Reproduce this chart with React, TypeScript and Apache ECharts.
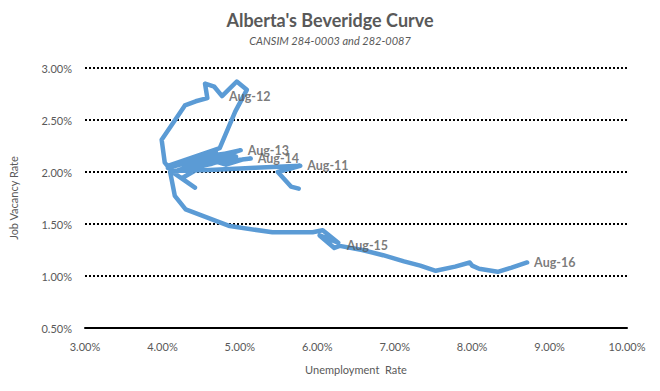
import React, { useEffect, useRef } from "react";
import * as echarts from "echarts";

const months = [
  "May-11", "Jun-11", "Jul-11", "Aug-11", "Sep-11", "Oct-11", "Nov-11", "Dec-11",
  "Jan-12", "Feb-12", "Mar-12", "Apr-12", "May-12", "Jun-12", "Jul-12", "Aug-12",
  "Sep-12", "Oct-12", "Nov-12", "Dec-12", "Jan-13", "Feb-13", "Mar-13", "Apr-13",
  "May-13", "Jun-13", "Jul-13", "Aug-13", "Sep-13", "Oct-13", "Nov-13", "Dec-13",
  "Jan-14", "Feb-14", "Mar-14", "Apr-14", "May-14", "Jun-14", "Jul-14", "Aug-14",
  "Sep-14", "Oct-14", "Nov-14", "Dec-14", "Jan-15", "Feb-15", "Mar-15", "Apr-15",
  "May-15", "Jun-15", "Jul-15", "Aug-15", "Sep-15", "Oct-15", "Nov-15", "Dec-15",
  "Jan-16", "Feb-16", "Mar-16", "Apr-16", "May-16", "Jun-16", "Jul-16", "Aug-16",
];

const unemploymentRate = [
  5.76, 5.66, 5.49, 5.78, 5.2, 4.61, 4.12, 4.03,
  3.99, 4.1, 4.29, 4.43, 4.58, 4.55, 4.67, 4.77,
  4.96, 5.09, 4.94, 4.74, 4.07, 4.42, 4.69, 4.15,
  4.42, 4.25, 4.69, 5.01, 4.59, 4.07, 4.54, 4.85,
  4.49, 4.18, 4.64, 4.95, 4.61, 4.82, 5.03, 5.14,
  4.68, 4.1, 4.16, 4.3, 4.87, 5.42, 5.94, 6.07,
  6.27, 6.03, 6.22, 6.29, 6.58, 6.85, 7.12, 7.33,
  7.53, 7.78, 7.97, 8.0, 8.09, 8.33, 8.51, 8.71,
];

const jobVacancyRate = [
  1.84, 1.86, 2.0, 2.06, 2.04, 2.02, 2.01, 2.09,
  2.31, 2.43, 2.64, 2.68, 2.71, 2.85, 2.82, 2.73,
  2.87, 2.79, 2.58, 2.23, 2.06, 2.13, 2.19, 1.99,
  1.85, 1.94, 2.13, 2.21, 2.14, 2.04, 2.15, 2.18,
  2.09, 2.01, 2.08, 2.15, 2.12, 2.07, 2.12, 2.13,
  2.09, 2.0, 1.77, 1.64, 1.48, 1.42, 1.42, 1.44,
  1.32, 1.39, 1.27, 1.29, 1.25, 1.2, 1.14, 1.1,
  1.05, 1.09, 1.13, 1.1, 1.07, 1.04, 1.08, 1.13,
];

const labelledMonths = ["Aug-11", "Aug-12", "Aug-13", "Aug-14", "Aug-15", "Aug-16"];

const xTicks = { min: 3, max: 10, interval: 1 };
const yTicks = { min: 0.5, max: 3, interval: 0.5 };

const textGray = "#595959";
const font = "Lato, 'Open Sans', sans-serif";

export default function App() {
  const ref = useRef<HTMLDivElement>(null);

  useEffect(() => {
    document.body.style.margin = "0";
    if (!ref.current) return;
    const chart = echarts.init(ref.current, undefined, { renderer: "svg" });
    const lineData = unemploymentRate.map((u, i) => [u, jobVacancyRate[i]]);
    const labelData = labelledMonths.map((m) => {
      const i = months.indexOf(m);
      return { value: [unemploymentRate[i], jobVacancyRate[i]], name: m };
    });

    chart.setOption({
      animation: false,
      backgroundColor: "#ffffff",
      title: {
        text: "Alberta's Beveridge Curve",
        subtext: "CANSIM 284-0003 and 282-0087",
        left: "center",
        top: 6,
        itemGap: 6,
        textStyle: { color: textGray, fontSize: 18, fontWeight: "bold", fontFamily: font },
        subtextStyle: { color: textGray, fontSize: 11, fontStyle: "italic", fontFamily: font },
      },
      grid: { left: 85, right: 33, top: 68, bottom: 63 },
      xAxis: {
        type: "value",
        min: xTicks.min,
        max: xTicks.max,
        interval: xTicks.interval,
        name: "Unemployment  Rate",
        nameLocation: "middle",
        nameGap: 36,
        nameTextStyle: { color: textGray, fontSize: 11, fontFamily: font },
        axisLine: { show: true, onZero: false, lineStyle: { color: "#000", width: 2 } },
        axisTick: { show: false },
        splitLine: { show: false },
        axisLabel: {
          color: textGray,
          fontSize: 11,
          fontFamily: font,
          margin: 13,
          formatter: (v: number) => v.toFixed(2) + "%",
        },
      },
      yAxis: {
        type: "value",
        min: yTicks.min,
        max: yTicks.max,
        interval: yTicks.interval,
        name: "Job Vacancy Rate",
        nameLocation: "middle",
        nameGap: 66,
        nameTextStyle: { color: textGray, fontSize: 11, fontFamily: font },
        axisLine: { show: false },
        axisTick: { show: false },
        splitLine: { show: true, lineStyle: { color: "#000", width: 2, type: [2, 2] } },
        axisLabel: {
          color: textGray,
          fontSize: 11,
          fontFamily: font,
          margin: 13,
          formatter: (v: number) => v.toFixed(2) + "%",
        },
      },
      series: [
        {
          type: "line",
          data: lineData,
          showSymbol: false,
          symbol: "none",
          smooth: false,
          lineStyle: { color: "#5B9BD5", width: 4.5, cap: "round", join: "round" },
          z: 3,
        },
        {
          type: "scatter",
          data: labelData,
          symbolSize: 2,
          itemStyle: { color: "rgba(0,0,0,0)" },
          label: {
            show: true,
            position: "right",
            distance: 6,
            formatter: (p: any) => p.name,
            color: textGray,
            fontSize: 12.5,
            fontWeight: "bold",
            fontFamily: font,
          },
          z: 4,
        },
      ],
    });
    return () => chart.dispose();
  }, []);

  return <div ref={ref} style={{ width: 660, height: 391 }} />;
}
